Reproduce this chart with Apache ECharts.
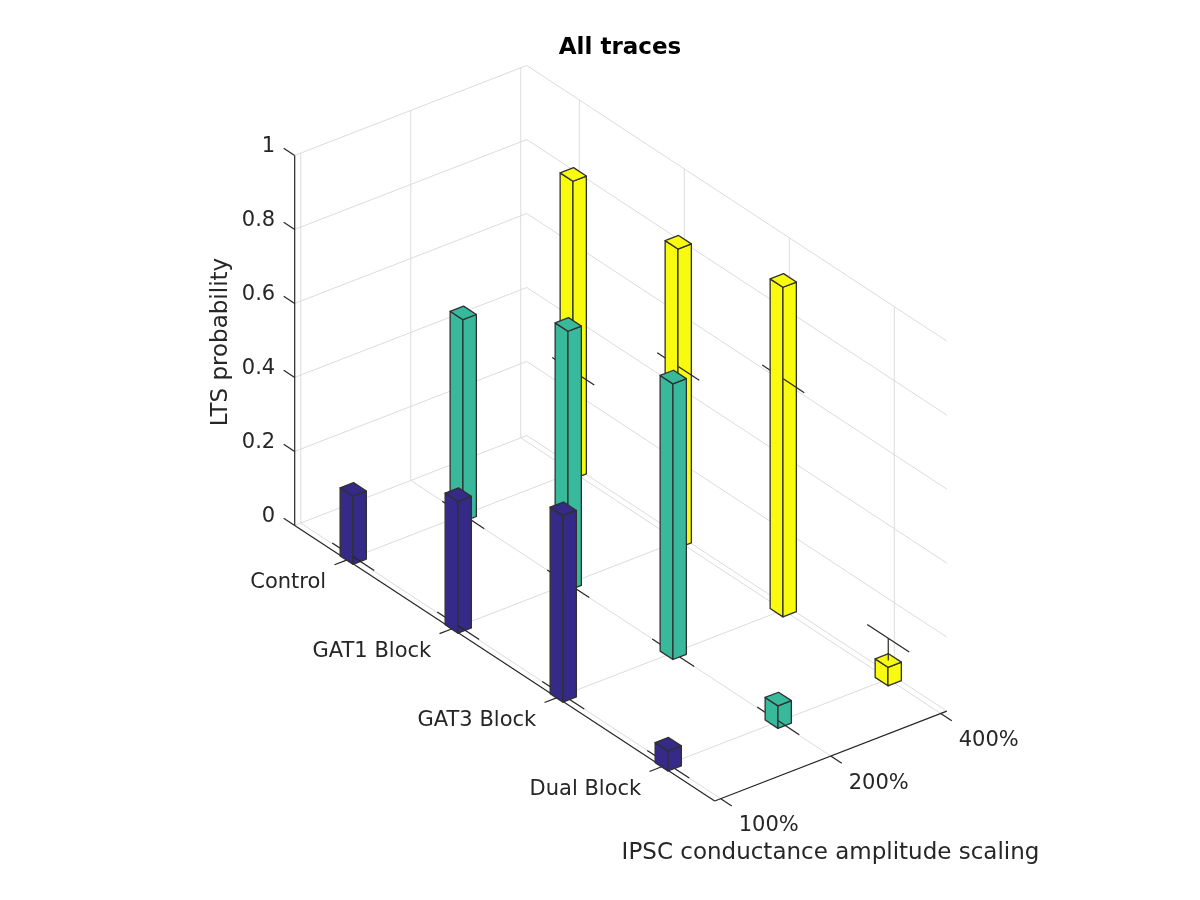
<!DOCTYPE html>
<html>
<head>
<meta charset="utf-8">
<style>html,body{margin:0;padding:0;background:#fff}#chart{width:1200px;height:900px}</style>
<script src="https://cdn.jsdelivr.net/npm/echarts@6/dist/echarts.min.js"></script>
</head>
<body>
<div id="chart"></div>
<script>
// ---- data ----
var categories = ['Control', 'GAT1 Block', 'GAT3 Block', 'Dual Block'];
var scalings = ['100%', '200%', '400%'];
var zTicks = [0, 0.2, 0.4, 0.6, 0.8, 1];
var zTickLabels = ['0', '0.2', '0.4', '0.6', '0.8', '1'];
var values100 = [0.184, 0.356, 0.504, 0.054];
var values200 = [0.546, 0.701, 0.745, 0.061];
var values400 = [0.805, 0.808, 0.891, 0.050];
var bound100 = [0.002, 0.002, 0, 0];
var bound200 = [0, 0, 0, 0.002];
var bound400 = [0.273, 0.472, 0.625, 0.11];
var colors = ['#352a87', '#38b99c', '#f9fb0e'];

// ---- the 3D scale (MATLAB-like oblique view) ----
var xLim = [0.5, 4.5], yLim = [0.945, 3.055], zLim = [0, 1];
var origin = [294.7, 525.4];
var xUnit = [105, 68.9], yUnit = [110, -42.6], zUnit = 370;
var barHalf = 0.061, capHalf = 0.2;
var GRID = '#dcdcdc', AXIS = '#262626', EDGE = '#303030', TEXT = '#262626';
var FONT = '"DejaVu Sans"';
var AXIS_W = 1.2, EDGE_W = 1.3;

function plane(x, y, z) {
  return [
    origin[0] + (x - xLim[0]) * xUnit[0] + (y - yLim[0]) * yUnit[0],
    origin[1] + (x - xLim[0]) * xUnit[1] + (y - yLim[0]) * yUnit[1] - z * zUnit
  ];
}

var seriesValues = [values100, values200, values400];
var seriesBounds = [bound100, bound200, bound400];
var barData = [];
seriesValues.forEach(function (vals, s) {
  vals.forEach(function (v, c) {
    barData.push([c + 1, s + 1, v, seriesBounds[s][c], s]);
  });
});
// painter's order: far bars first
barData.sort(function (a, b) { return (a[0] - a[1]) - (b[0] - b[1]); });

function line(a, b, color, width) {
  return {
    type: 'line',
    shape: { x1: a[0], y1: a[1], x2: b[0], y2: b[1] },
    style: { stroke: color, lineWidth: width, fill: null },
    silent: true
  };
}

function frameItem(params, api) {
  var P = function (x, y, z) { return api.coord(plane(x, y, z)); };
  var kids = [];
  var i;
  // grid lines
  zTicks.forEach(function (z) {
    kids.push(line(P(xLim[0], yLim[0], z), P(xLim[0], yLim[1], z), GRID, 1));
    kids.push(line(P(xLim[0], yLim[1], z), P(xLim[1], yLim[1], z), GRID, 1));
  });
  for (i = 1; i <= categories.length; i++) {
    kids.push(line(P(i, yLim[0], 0), P(i, yLim[1], 0), GRID, 1));
    kids.push(line(P(i, yLim[1], 0), P(i, yLim[1], 1), GRID, 1));
  }
  for (i = 1; i <= scalings.length; i++) {
    kids.push(line(P(xLim[0], i, 0), P(xLim[1], i, 0), GRID, 1));
    kids.push(line(P(xLim[0], i, 0), P(xLim[0], i, 1), GRID, 1));
  }
  // axis lines
  kids.push(line(P(xLim[0], yLim[0], 0), P(xLim[1], yLim[0], 0), AXIS, AXIS_W));
  kids.push(line(P(xLim[1], yLim[0], 0), P(xLim[1], yLim[1], 0), AXIS, AXIS_W));
  kids.push(line(P(xLim[0], yLim[0], 0), P(xLim[0], yLim[0], 1), AXIS, AXIS_W));
  // ticks and tick labels
  categories.forEach(function (name, c) {
    var a = P(c + 1, yLim[0], 0);
    kids.push(line(a, P(c + 1, yLim[0] - 0.115, 0), AXIS, AXIS_W));
    kids.push({ type: 'text', x: a[0] - 21, y: a[1] + 23, silent: true,
      style: { text: name, font: '21px ' + FONT, fill: TEXT, align: 'right', verticalAlign: 'middle' } });
  });
  scalings.forEach(function (name, s) {
    var a = P(xLim[1], s + 1, 0);
    kids.push(line(a, P(xLim[1] + 0.105, s + 1, 0), AXIS, AXIS_W));
    kids.push({ type: 'text', x: a[0] + 18, y: a[1] + 27, silent: true,
      style: { text: name, font: '21px ' + FONT, fill: TEXT, align: 'left', verticalAlign: 'middle' } });
  });
  zTicks.forEach(function (z, k) {
    var a = P(xLim[0], yLim[0], z);
    kids.push(line(a, P(xLim[0] - 0.105, yLim[0], z), AXIS, AXIS_W));
    kids.push({ type: 'text', x: a[0] - 19.5, y: a[1] - 8.7, silent: true,
      style: { text: zTickLabels[k], font: '21px ' + FONT, fill: TEXT, align: 'right', verticalAlign: 'middle' } });
  });
  return { type: 'group', children: kids };
}

function barItem(params, api) {
  var x = api.value(0), y = api.value(1), h = api.value(2), cap = api.value(3), s = api.value(4);
  var P = function (a, b, c) { return api.coord(plane(a, b, c)); };
  var color = colors[s];
  var x0 = x - barHalf, x1 = x + barHalf, y0 = y - barHalf, y1 = y + barHalf;
  var face = function (pts) {
    return {
      type: 'polygon', silent: true,
      shape: { points: pts },
      style: { fill: color, stroke: EDGE, lineWidth: EDGE_W, lineJoin: 'round' }
    };
  };
  var kids = [];
  var above = cap > h;
  if (!above) {
    kids.push(line(P(x - capHalf, y, cap), P(x0, y, cap), AXIS, AXIS_W));
  }
  kids.push(face([P(x0, y0, 0), P(x1, y0, 0), P(x1, y0, h), P(x0, y0, h)]));
  kids.push(face([P(x1, y0, 0), P(x1, y1, 0), P(x1, y1, h), P(x1, y0, h)]));
  kids.push(face([P(x0, y0, h), P(x1, y0, h), P(x1, y1, h), P(x0, y1, h)]));
  if (above) {
    kids.push(line(P(x, y, h), P(x, y, cap), AXIS, AXIS_W));
    kids.push(line(P(x - capHalf, y, cap), P(x + capHalf, y, cap), AXIS, AXIS_W));
  } else {
    // the near half shows over the bar's front face when it is above the floor
    kids.push(line(P(cap > 0 ? x : x1, y, cap), P(x + capHalf, y, cap), AXIS, AXIS_W));
  }
  return { type: 'group', children: kids };
}

var chart = echarts.init(document.getElementById('chart'), null, { renderer: 'canvas' });
chart.setOption({
  animation: false,
  backgroundColor: '#ffffff',
  grid: { left: 0, right: 0, top: 0, bottom: 0, show: false },
  xAxis: { type: 'value', min: 0, max: 1200, show: false },
  yAxis: { type: 'value', min: 0, max: 900, inverse: true, show: false },
  graphic: [
    { type: 'text', x: 620, y: 48.5, silent: true,
      style: { text: 'All traces', font: 'bold 23px ' + FONT, fill: '#000000', align: 'center', verticalAlign: 'middle' } },
    { type: 'text', x: 221.5, y: 342, rotation: Math.PI / 2, silent: true,
      style: { text: 'LTS probability', font: '23px ' + FONT, fill: TEXT, align: 'center', verticalAlign: 'middle' } },
    { type: 'text', x: 830.5, y: 853.5, silent: true,
      style: { text: 'IPSC conductance amplitude scaling', font: '23px ' + FONT, fill: TEXT, align: 'center', verticalAlign: 'middle' } }
  ],
  series: [
    { type: 'custom', coordinateSystem: 'cartesian2d', clip: false, silent: true, z: 1,
      data: [[0, 0]], renderItem: frameItem, encode: { x: 0, y: 1 } },
    { type: 'custom', coordinateSystem: 'cartesian2d', clip: false, silent: true, z: 2,
      data: barData, renderItem: barItem, encode: { x: 0, y: 1 } }
  ]
});
</script>
</body>
</html>
